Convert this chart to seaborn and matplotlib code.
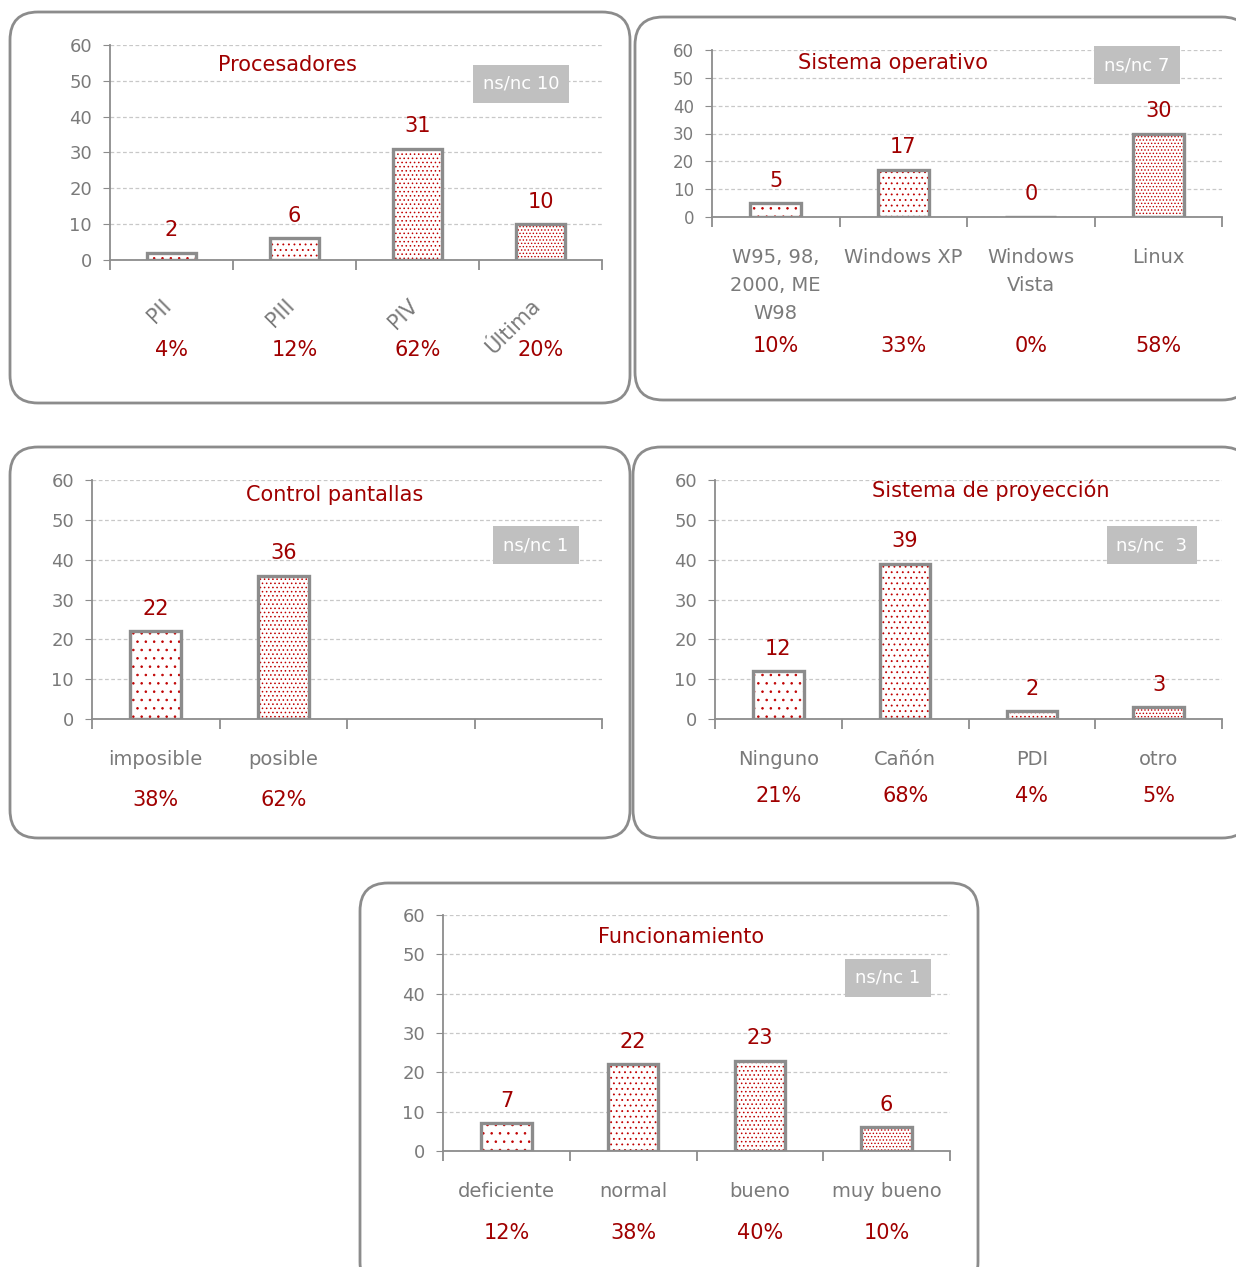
import numpy as np
import pandas as pd
import matplotlib
matplotlib.use('Agg')
import matplotlib.pyplot as plt
import matplotlib.transforms as mtransforms
from matplotlib.patches import FancyBboxPatch
import seaborn as sns

# ---------------- data ----------------
proc_cats = ['PII', 'PIII', 'PIV', 'Última']
proc_vals = [2, 6, 31, 10]
proc_pcts = ['4%', '12%', '62%', '20%']
proc_nsnc = 'ns/nc 10'

so_cats = ['W95, 98,\n2000, ME\nW98', 'Windows XP', 'Windows\nVista', 'Linux']
so_vals = [5, 17, 0, 30]
so_pcts = ['10%', '33%', '0%', '58%']
so_nsnc = 'ns/nc 7'

ctrl_cats = ['imposible', 'posible']
ctrl_vals = [22, 36]
ctrl_pcts = ['38%', '62%']
ctrl_nsnc = 'ns/nc 1'

proy_cats = ['Ninguno', 'Cañón', 'PDI', 'otro']
proy_vals = [12, 39, 2, 3]
proy_pcts = ['21%', '68%', '4%', '5%']
proy_nsnc = 'ns/nc  3'

func_cats = ['deficiente', 'normal', 'bueno', 'muy bueno']
func_vals = [7, 22, 23, 6]
func_pcts = ['12%', '38%', '40%', '10%']
func_nsnc = 'ns/nc 1'

# ---------------- style ----------------
W, H = 1236, 1267
sns.set_style('white')
plt.rcParams['font.family'] = ['DejaVu Sans']
plt.rcParams['hatch.linewidth'] = 0.6

RED = '#a00000'
HATCH_RED = '#c00000'
EDGE = '#8c8c8c'
TXT = '#7a7a7a'
HATCHES = ['..', '...', '....', '.....']

fig = plt.figure(figsize=(W / 100, H / 100), dpi=100)
fig.patch.set_facecolor('white')

# rounded panel frames (pixel coords: x0, y0, x1, y1 from top-left)
frames = [(10, 12, 630, 403), (635, 17, 1250, 400), (10, 447, 630, 838),
          (633, 447, 1250, 838), (360, 883, 978, 1290)]
for (x0, y0, x1, y1) in frames:
    fig.patches.append(FancyBboxPatch((x0 / 100, (H - y1) / 100), (x1 - x0) / 100, (y1 - y0) / 100,
                                      boxstyle='round,pad=0,rounding_size=0.28',
                                      transform=fig.dpi_scale_trans, fc='white',
                                      ec=EDGE, lw=2, zorder=-5))


def panel(rect, cats, vals, pcts, title, title_xy, nsnc, nsnc_xy, pct_y,
          nslots=4, rot=0, lab_pad=20, ytick_fs=13, lab_fs=14, hatch_override=None):
    l, t, r, b = rect
    ax = fig.add_axes([l / W, 1 - b / H, (r - l) / W, (b - t) / H])
    ax.set_facecolor('none')
    df = pd.DataFrame({'cat': cats, 'val': vals})
    # hatched fill layer
    sns.barplot(data=df, x='cat', y='val', order=cats, ax=ax, color='white',
                width=0.4, linewidth=0, edgecolor=HATCH_RED, zorder=2)
    hatches = hatch_override if hatch_override else HATCHES
    for i, p in enumerate(ax.patches):
        p.set_hatch(hatches[i])
        p.set_edgecolor(HATCH_RED)
        p.set_linewidth(0)
        p.set_facecolor('white')
    # outline layer
    sns.barplot(data=df, x='cat', y='val', order=cats, ax=ax, fill=False,
                color=EDGE, width=0.4, linewidth=2.4, zorder=3)
    ax.bar_label(ax.containers[-1], labels=[str(v) for v in vals], padding=9,
                 color=RED, fontsize=15)

    ax.set_ylim(0, 60)
    ax.set_xlim(-0.5, nslots - 0.5)
    ax.set_yticks(range(0, 61, 10))
    ax.yaxis.grid(True, linestyle=(0, (3, 2)), color='#c8c8c8', lw=0.9)
    ax.set_axisbelow(True)
    for s in ['top', 'right']:
        ax.spines[s].set_visible(False)
    for s in ['left', 'bottom']:
        ax.spines[s].set_color(EDGE)
        ax.spines[s].set_linewidth(1.3)
    ax.tick_params(axis='y', left=True, length=5, color=EDGE, labelcolor=TXT,
                   labelsize=ytick_fs, pad=8)
    ax.set_xticks(range(len(cats)))
    if rot:
        ax.set_xticklabels(cats, rotation=rot, ha='right', va='top',
                           rotation_mode='anchor')
    else:
        ax.set_xticklabels(cats, linespacing=1.6)
    ax.set_xticks(np.arange(-0.5, nslots), minor=True)
    ax.tick_params(axis='x', which='major', bottom=True, length=0, pad=lab_pad,
                   labelcolor=TXT, labelsize=lab_fs)
    ax.tick_params(axis='x', which='minor', bottom=True, length=7, width=1.3, color=EDGE)
    ax.set_xlabel('')
    ax.set_ylabel('')

    # percentages under each category
    trans = mtransforms.blended_transform_factory(ax.transData, ax.transAxes)
    ya = -(pct_y - b) / (b - t)
    for i, s in enumerate(pcts):
        ax.text(i, ya, s, transform=trans, ha='center', va='center',
                color=RED, fontsize=15)

    fig.text(title_xy[0] / W, 1 - title_xy[1] / H, title, ha='center', va='center',
             color=RED, fontsize=15)
    fig.text(nsnc_xy[0] / W, 1 - nsnc_xy[1] / H, nsnc, ha='center', va='center',
             color='white', fontsize=13,
             bbox=dict(boxstyle='square,pad=0.55', fc='#c0c0c0', ec='none'))
    return ax


ax1 = panel((110, 45, 602, 260), proc_cats, proc_vals, proc_pcts, 'Procesadores',
            (287, 65), proc_nsnc, (521, 84), 350, rot=45, lab_pad=24, lab_fs=15)
for lab in ax1.get_xticklabels():
    lab.set_transform(lab.get_transform() + mtransforms.ScaledTranslation(-0.10, -0.02, fig.dpi_scale_trans))

panel((712, 50, 1222, 217), so_cats, so_vals, so_pcts, 'Sistema operativo',
      (893, 63), so_nsnc, (1137, 65), 346, lab_pad=22, ytick_fs=12,
      hatch_override=['..', '...', '', '.....'])

panel((92, 480, 602, 719), ctrl_cats, ctrl_vals, ctrl_pcts, 'Control pantallas',
      (335, 495), ctrl_nsnc, (536, 545), 800, lab_pad=22,
      hatch_override=['..', '....'])

panel((715, 480, 1222, 719), proy_cats, proy_vals, proy_pcts, 'Sistema de proyección',
      (991, 490), proy_nsnc, (1152, 545), 796, lab_pad=22)

panel((443, 915, 950, 1151), func_cats, func_vals, func_pcts, 'Funcionamiento',
      (681, 937), func_nsnc, (888, 978), 1233, lab_pad=22)

fig.savefig('out.png', dpi=100, facecolor='white')
